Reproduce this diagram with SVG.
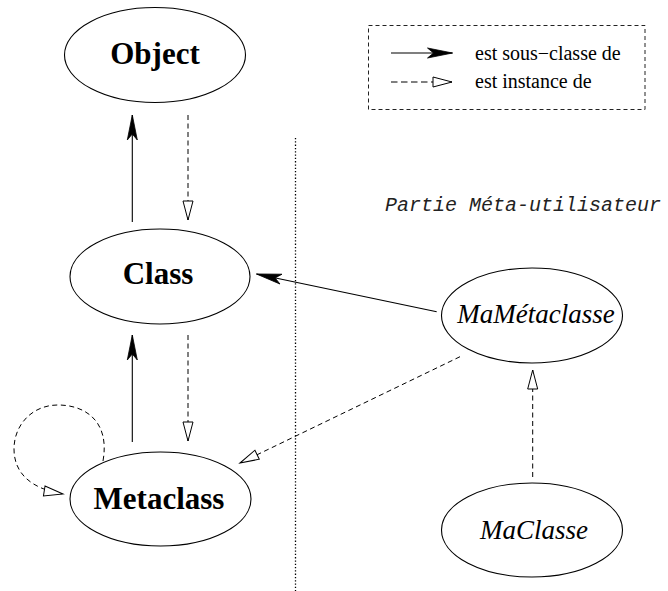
<svg xmlns="http://www.w3.org/2000/svg" width="668" height="591" viewBox="0 0 668 591">
  <style>
    .node { fill: #fff; stroke: #000; stroke-width: 1.1; }
    .bold { font-family: "Liberation Serif", "Times New Roman", serif; font-weight: bold; font-size: 31px; text-anchor: middle; fill: #000; }
    .ital { font-family: "Liberation Serif", "Times New Roman", serif; font-style: italic; font-size: 27px; text-anchor: middle; fill: #000; }
    .legend { font-family: "Liberation Serif", "Times New Roman", serif; font-size: 20px; fill: #000; }
    .mono { font-family: "Liberation Mono", "Courier New", monospace; font-style: italic; font-size: 20px; fill: #222; }
    .sub { fill: none; stroke: #000; stroke-width: 1.1; marker-end: url(#filled); }
    .inst { fill: none; stroke: #000; stroke-width: 1; stroke-dasharray: 5 3.5; marker-end: url(#open); }
  </style>
  <defs>
    <marker id="filled" markerUnits="userSpaceOnUse" markerWidth="30" markerHeight="14" refX="0" refY="0" orient="auto" overflow="visible">
      <path d="M0,0 L-25,-5 L-19,0 L-25,5 Z" fill="#000" stroke="#000" stroke-width="0.8" stroke-linejoin="miter"/>
    </marker>
    <marker id="open" markerUnits="userSpaceOnUse" markerWidth="24" markerHeight="14" refX="0" refY="0" orient="auto" overflow="visible">
      <path d="M0,0 L-19,-5 L-19,5 Z" fill="#fff" stroke="#000" stroke-width="1" stroke-dasharray="none"/>
    </marker>
  </defs>

  <!-- separator between the two parts -->
  <line x1="295.5" y1="138" x2="295.5" y2="591" stroke="#000" stroke-width="1.3" stroke-dasharray="1.3 2"/>

  <!-- legend -->
  <g id="legend">
    <rect x="368.5" y="25.5" width="276.5" height="84" fill="none" stroke="#222" stroke-width="1" stroke-dasharray="4 3"/>
    <line x1="391" y1="53" x2="452.5" y2="53" class="sub"/>
    <line x1="391" y1="82" x2="452" y2="82" fill="none" stroke="#000" stroke-width="1" stroke-dasharray="6.5 3.5" marker-end="url(#open)"/>
    <text x="475" y="60" class="legend">est sous−classe de</text>
    <text x="475" y="88" class="legend">est instance de</text>
  </g>

  <text x="385" y="211" class="mono">Partie Méta-utilisateur</text>

  <!-- nodes -->
  <g id="object">
    <ellipse cx="155" cy="55" rx="90.5" ry="47.5" class="node"/>
    <text x="155" y="64" class="bold">Object</text>
  </g>
  <g id="class">
    <ellipse cx="160" cy="276.5" rx="90" ry="47.5" class="node"/>
    <text x="158" y="284" class="bold">Class</text>
  </g>
  <g id="metaclass">
    <ellipse cx="160.5" cy="499" rx="90.5" ry="47" class="node"/>
    <text x="159" y="509" class="bold">Metaclass</text>
  </g>
  <g id="mametaclasse">
    <ellipse cx="532" cy="315.5" rx="90.5" ry="47.5" class="node"/>
    <text x="536" y="323" class="ital">MaMétaclasse</text>
  </g>
  <g id="maclasse">
    <ellipse cx="532" cy="530" rx="90.5" ry="47" class="node"/>
    <text x="534" y="539" class="ital">MaClasse</text>
  </g>

  <!-- connectors -->
  <g id="connectors">
    <line x1="132.3" y1="222" x2="132.3" y2="115" class="sub"/>
    <line x1="188" y1="115" x2="188" y2="220" class="inst"/>
    <line x1="132.3" y1="442" x2="132.3" y2="335" class="sub"/>
    <line x1="188" y1="335" x2="188" y2="441" class="inst"/>
    <path d="M103,461 C110,422 86,405 58,405 C32,405 14,425 14,449 C14,474 32,489 63,494" class="inst"/>
    <line x1="436.7" y1="311.7" x2="256.5" y2="274" class="sub"/>
    <line x1="460" y1="356.7" x2="240" y2="463" class="inst"/>
    <line x1="532.7" y1="477" x2="532.7" y2="370" class="inst"/>
  </g>
</svg>
